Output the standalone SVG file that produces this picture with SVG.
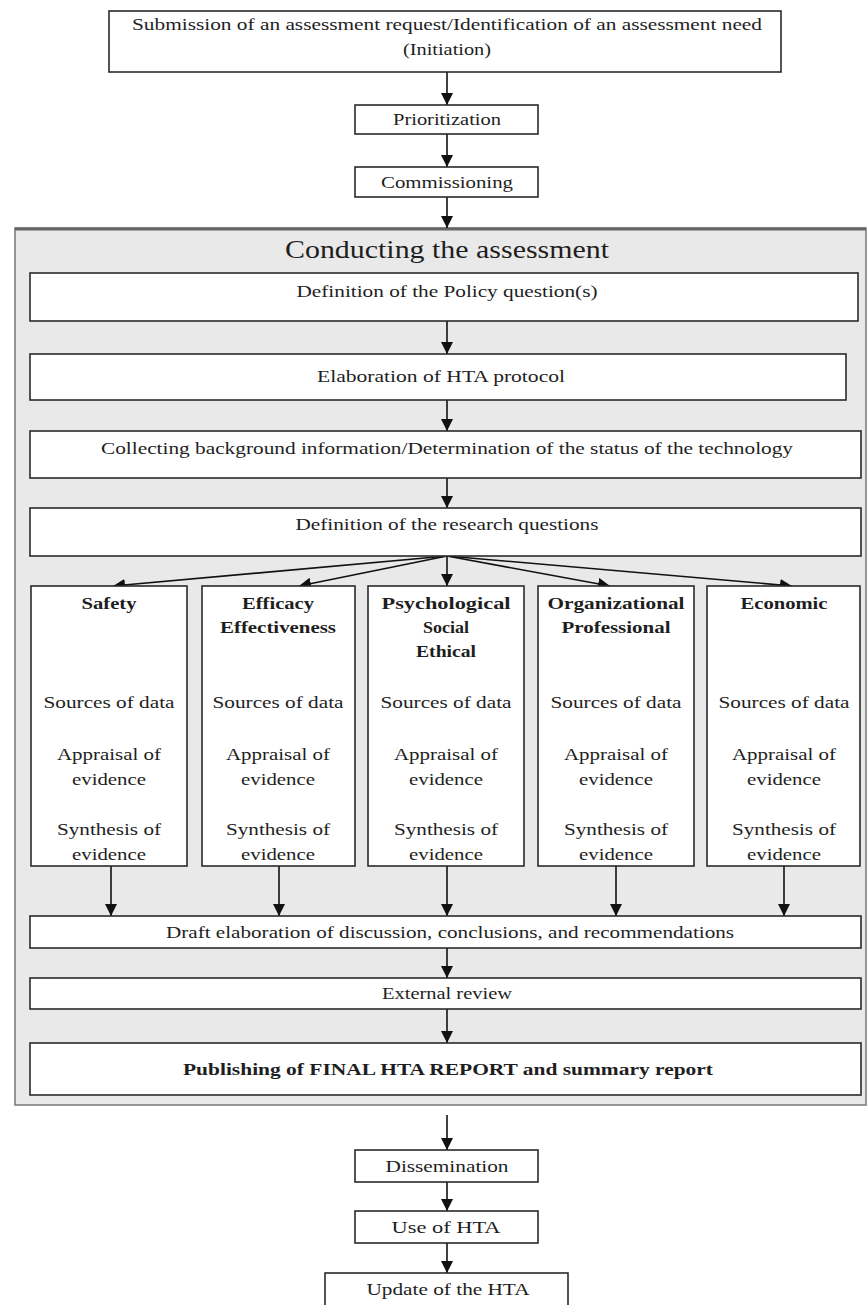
<svg xmlns="http://www.w3.org/2000/svg" width="868" height="1305" viewBox="0 0 868 1305">
<style>
text{font-family:"Liberation Serif","Times New Roman",serif;fill:#1e1e1e;text-anchor:middle}
.t{font-size:16px}
.c{font-size:17px}
.b{font-weight:bold}
.h{font-size:25px}
.box{fill:#fff;stroke:#2a2a2a;stroke-width:1.6}
.con{stroke:#111;stroke-width:1.6;fill:none}
</style>
<defs>
<marker id="ah" viewBox="0 0 10 10" refX="10" refY="5" markerWidth="7" markerHeight="7" markerUnits="userSpaceOnUse" orient="auto">
<path d="M0,0 L10,5 L0,10 z" fill="#111"/>
</marker>
<marker id="ah2" viewBox="0 0 10 10" refX="10" refY="5" markerWidth="12" markerHeight="12" markerUnits="userSpaceOnUse" orient="auto">
<path d="M0,0 L10,5 L0,10 z" fill="#111"/>
</marker>
</defs>
<rect width="868" height="1305" fill="#fff"/>
<g id="container">
<rect x="15" y="228" width="851" height="877" fill="#e9e9e9" stroke="#777" stroke-width="1.5"/>
<line x1="15" y1="229" x2="866" y2="229" stroke="#666" stroke-width="3"/>
<text class="h" x="447" y="258" textLength="324" lengthAdjust="spacingAndGlyphs">Conducting the assessment</text>
</g>
<g id="connectors">
<line class="con" x1="447" y1="72" x2="447" y2="105" marker-end="url(#ah2)"/>
<line class="con" x1="447" y1="134" x2="447" y2="167" marker-end="url(#ah2)"/>
<line class="con" x1="447" y1="197" x2="447" y2="228" marker-end="url(#ah2)"/>
<line class="con" x1="447" y1="321" x2="447" y2="354" marker-end="url(#ah2)"/>
<line class="con" x1="447" y1="400" x2="447" y2="431" marker-end="url(#ah2)"/>
<line class="con" x1="447" y1="478" x2="447" y2="508" marker-end="url(#ah2)"/>
<line class="con" x1="447" y1="556" x2="113" y2="586" marker-end="url(#ah2)"/>
<line class="con" x1="447" y1="556" x2="299" y2="586" marker-end="url(#ah2)"/>
<line class="con" x1="447" y1="556" x2="447" y2="586" marker-end="url(#ah2)"/>
<line class="con" x1="447" y1="556" x2="610" y2="586" marker-end="url(#ah2)"/>
<line class="con" x1="447" y1="556" x2="792" y2="586" marker-end="url(#ah2)"/>
<line class="con" x1="111" y1="866" x2="111" y2="916" marker-end="url(#ah2)"/>
<line class="con" x1="279" y1="866" x2="279" y2="916" marker-end="url(#ah2)"/>
<line class="con" x1="447" y1="866" x2="447" y2="916" marker-end="url(#ah2)"/>
<line class="con" x1="616" y1="866" x2="616" y2="916" marker-end="url(#ah2)"/>
<line class="con" x1="784" y1="866" x2="784" y2="916" marker-end="url(#ah2)"/>
<line class="con" x1="447" y1="948" x2="447" y2="978" marker-end="url(#ah2)"/>
<line class="con" x1="447" y1="1009" x2="447" y2="1043" marker-end="url(#ah2)"/>
<line class="con" x1="447" y1="1115" x2="447" y2="1150" marker-end="url(#ah2)"/>
<line class="con" x1="447" y1="1182" x2="447" y2="1211" marker-end="url(#ah2)"/>
<line class="con" x1="447" y1="1243" x2="447" y2="1273" marker-end="url(#ah2)"/>
</g>
<g id="initiation">
<rect class="box" x="109" y="11" width="672" height="61"/>
<text class="t" x="447" y="30" textLength="630" lengthAdjust="spacingAndGlyphs">Submission of an assessment request/Identification of an assessment need</text>
<text class="t" x="447" y="55" textLength="88" lengthAdjust="spacingAndGlyphs">(Initiation)</text>
</g>
<g id="prioritization">
<rect class="box" x="355" y="105" width="183" height="29"/>
<text class="t" x="447" y="125" textLength="108" lengthAdjust="spacingAndGlyphs">Prioritization</text>
</g>
<g id="commissioning">
<rect class="box" x="355" y="167" width="183" height="30"/>
<text class="t" x="447" y="188" textLength="132" lengthAdjust="spacingAndGlyphs">Commissioning</text>
</g>
<g id="policy">
<rect class="box" x="30" y="273" width="828" height="48"/>
<text class="t" x="447" y="297" textLength="301" lengthAdjust="spacingAndGlyphs">Definition of the Policy question(s)</text>
</g>
<g id="protocol">
<rect class="box" x="30" y="354" width="816" height="46"/>
<text class="t" x="441" y="382" textLength="248" lengthAdjust="spacingAndGlyphs">Elaboration of HTA protocol</text>
</g>
<g id="background">
<rect class="box" x="30" y="431" width="831" height="47"/>
<text class="t" x="447" y="454" textLength="692" lengthAdjust="spacingAndGlyphs">Collecting background information/Determination of the status of the technology</text>
</g>
<g id="research">
<rect class="box" x="30" y="508" width="831" height="48"/>
<text class="t" x="447" y="530" textLength="303" lengthAdjust="spacingAndGlyphs">Definition of the research questions</text>
</g>
<g id="safety">
<rect class="box" x="31" y="586" width="156" height="280"/>
<text class="c b" x="109" y="609" textLength="55" lengthAdjust="spacingAndGlyphs">Safety</text>
<text class="c" x="109" y="708" textLength="131" lengthAdjust="spacingAndGlyphs">Sources of data</text>
<text class="c" x="109" y="760" textLength="104" lengthAdjust="spacingAndGlyphs">Appraisal of</text>
<text class="c" x="109" y="785" textLength="74" lengthAdjust="spacingAndGlyphs">evidence</text>
<text class="c" x="109" y="835" textLength="104" lengthAdjust="spacingAndGlyphs">Synthesis of</text>
<text class="c" x="109" y="860" textLength="74" lengthAdjust="spacingAndGlyphs">evidence</text>
</g>
<g id="efficacy">
<rect class="box" x="202" y="586" width="153" height="280"/>
<text class="c b" x="278" y="609" textLength="72" lengthAdjust="spacingAndGlyphs">Efficacy</text>
<text class="c b" x="278" y="633" textLength="116" lengthAdjust="spacingAndGlyphs">Effectiveness</text>
<text class="c" x="278" y="708" textLength="131" lengthAdjust="spacingAndGlyphs">Sources of data</text>
<text class="c" x="278" y="760" textLength="104" lengthAdjust="spacingAndGlyphs">Appraisal of</text>
<text class="c" x="278" y="785" textLength="74" lengthAdjust="spacingAndGlyphs">evidence</text>
<text class="c" x="278" y="835" textLength="104" lengthAdjust="spacingAndGlyphs">Synthesis of</text>
<text class="c" x="278" y="860" textLength="74" lengthAdjust="spacingAndGlyphs">evidence</text>
</g>
<g id="psychological">
<rect class="box" x="368" y="586" width="156" height="280"/>
<text class="c b" x="446" y="609" textLength="129" lengthAdjust="spacingAndGlyphs">Psychological</text>
<text class="c b" x="446" y="633" textLength="46" lengthAdjust="spacingAndGlyphs">Social</text>
<text class="c b" x="446" y="657" textLength="60" lengthAdjust="spacingAndGlyphs">Ethical</text>
<text class="c" x="446" y="708" textLength="131" lengthAdjust="spacingAndGlyphs">Sources of data</text>
<text class="c" x="446" y="760" textLength="104" lengthAdjust="spacingAndGlyphs">Appraisal of</text>
<text class="c" x="446" y="785" textLength="74" lengthAdjust="spacingAndGlyphs">evidence</text>
<text class="c" x="446" y="835" textLength="104" lengthAdjust="spacingAndGlyphs">Synthesis of</text>
<text class="c" x="446" y="860" textLength="74" lengthAdjust="spacingAndGlyphs">evidence</text>
</g>
<g id="organizational">
<rect class="box" x="538" y="586" width="156" height="280"/>
<text class="c b" x="616" y="609" textLength="137" lengthAdjust="spacingAndGlyphs">Organizational</text>
<text class="c b" x="616" y="633" textLength="109" lengthAdjust="spacingAndGlyphs">Professional</text>
<text class="c" x="616" y="708" textLength="131" lengthAdjust="spacingAndGlyphs">Sources of data</text>
<text class="c" x="616" y="760" textLength="104" lengthAdjust="spacingAndGlyphs">Appraisal of</text>
<text class="c" x="616" y="785" textLength="74" lengthAdjust="spacingAndGlyphs">evidence</text>
<text class="c" x="616" y="835" textLength="104" lengthAdjust="spacingAndGlyphs">Synthesis of</text>
<text class="c" x="616" y="860" textLength="74" lengthAdjust="spacingAndGlyphs">evidence</text>
</g>
<g id="economic">
<rect class="box" x="707" y="586" width="153" height="280"/>
<text class="c b" x="784" y="609" textLength="87" lengthAdjust="spacingAndGlyphs">Economic</text>
<text class="c" x="784" y="708" textLength="131" lengthAdjust="spacingAndGlyphs">Sources of data</text>
<text class="c" x="784" y="760" textLength="104" lengthAdjust="spacingAndGlyphs">Appraisal of</text>
<text class="c" x="784" y="785" textLength="74" lengthAdjust="spacingAndGlyphs">evidence</text>
<text class="c" x="784" y="835" textLength="104" lengthAdjust="spacingAndGlyphs">Synthesis of</text>
<text class="c" x="784" y="860" textLength="74" lengthAdjust="spacingAndGlyphs">evidence</text>
</g>
<g id="draft">
<rect class="box" x="30" y="916" width="831" height="32"/>
<text class="t" x="450" y="938" textLength="568" lengthAdjust="spacingAndGlyphs">Draft elaboration of discussion, conclusions, and recommendations</text>
</g>
<g id="review">
<rect class="box" x="30" y="978" width="831" height="31"/>
<text class="t" x="447" y="999" textLength="130" lengthAdjust="spacingAndGlyphs">External review</text>
</g>
<g id="publishing">
<rect class="box" x="30" y="1043" width="831" height="52"/>
<text class="t b" x="448" y="1075" textLength="530" lengthAdjust="spacingAndGlyphs">Publishing of FINAL HTA REPORT and summary report</text>
</g>
<g id="dissemination">
<rect class="box" x="355" y="1150" width="183" height="32"/>
<text class="t" x="447" y="1172" textLength="123" lengthAdjust="spacingAndGlyphs">Dissemination</text>
</g>
<g id="use">
<rect class="box" x="355" y="1211" width="183" height="32"/>
<text class="t" x="446" y="1233" textLength="109" lengthAdjust="spacingAndGlyphs">Use of HTA</text>
</g>
<g id="update">
<rect class="box" x="325" y="1273" width="243" height="40"/>
<text class="t" x="448" y="1295" textLength="163" lengthAdjust="spacingAndGlyphs">Update of the HTA</text>
</g>
</svg>
